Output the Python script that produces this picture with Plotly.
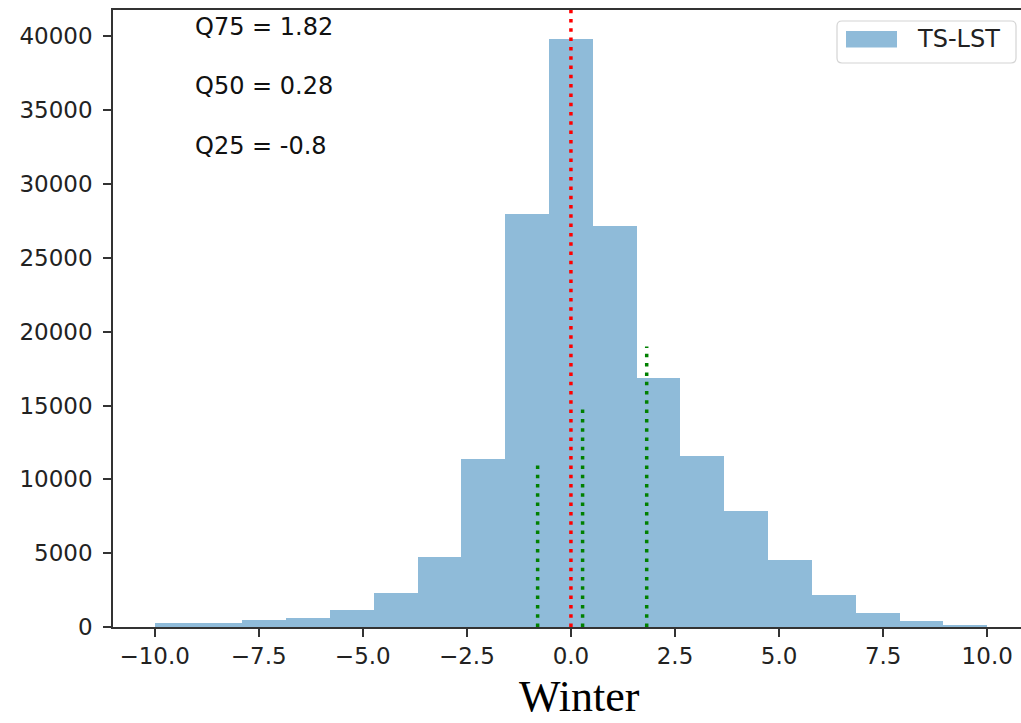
import numpy as np
import plotly.graph_objects as go

# ---- data ----
bin_edges_lo = -10.0
bin_edges_hi = 10.0
n_bins = 19
counts = [250, 250, 470, 610, 1150, 2300, 4770, 11350, 27970, 39860,
          27160, 16890, 11550, 7840, 4570, 2180, 950, 380, 130]
series_name = "TS-LST"
quantile_labels = ["Q75 = 1.82", "Q50 = 0.28", "Q25 = -0.8"]
quantile_values = [1.82, 0.28, -0.8]
quantile_line_tops = [19000, 15000, 11000]
label_y = [40000, 36000, 32000]
label_x = -9.0
zero_line_x = 0.0
x_ticks = [-10.0, -7.5, -5.0, -2.5, 0.0, 2.5, 5.0, 7.5, 10.0]
y_ticks = [0, 5000, 10000, 15000, 20000, 25000, 30000, 35000, 40000]
title_text = "Winter"

edges = np.linspace(bin_edges_lo, bin_edges_hi, n_bins + 1)
centers = (edges[:-1] + edges[1:]) / 2
widths = np.diff(edges)

W, H = 1021, 723
ML, MR, MT, MB = 113, 0, 10, 96
PW, PH = W - ML - MR, H - MT - MB


def px(xp):
    return (xp - ML) / PW


def py(yp):
    return 1 - (yp - MT) / PH


def rounded_rect_path(x0p, y0p, x1p, y1p, r):
    rx = r / PW
    ry = r / PH
    X0, X1 = px(x0p), px(x1p)
    YT, YB = py(y0p), py(y1p)
    return (f"M {X0 + rx},{YT} L {X1 - rx},{YT} Q {X1},{YT} {X1},{YT - ry} "
            f"L {X1},{YB + ry} Q {X1},{YB} {X1 - rx},{YB} "
            f"L {X0 + rx},{YB} Q {X0},{YB} {X0},{YB + ry} "
            f"L {X0},{YT - ry} Q {X0},{YT} {X0 + rx},{YT} Z")


fig = go.Figure()
fig.add_trace(go.Bar(
    x=centers, y=counts, width=widths, name=series_name,
    marker=dict(color="rgba(31,119,180,0.5)", line=dict(width=0)),
    showlegend=False,
))

shapes = []
shapes.append(dict(type="line", xref="x", yref="paper", x0=zero_line_x, x1=zero_line_x,
                   y0=0, y1=1, line=dict(color="#ff0000", width=3.5, dash="3.5px,5.8px")))
for q, top in zip(quantile_values, quantile_line_tops):
    shapes.append(dict(type="line", xref="x", yref="y", x0=q, x1=q, y0=0, y1=top,
                       line=dict(color="#008000", width=3.5, dash="3.5px,5.8px")))

# legend box (manual, matplotlib style)
shapes.append(dict(type="path", xref="paper", yref="paper",
                   path=rounded_rect_path(837, 21, 1016, 63, 5),
                   line=dict(color="#d4d4d4", width=1.2), fillcolor="rgba(255,255,255,0.8)"))
shapes.append(dict(type="rect", xref="paper", yref="paper",
                   x0=px(846), x1=px(897), y0=py(47.5), y1=py(31),
                   line=dict(width=0), fillcolor="rgba(31,119,180,0.5)"))

annotations = []
for lab, yv in zip(quantile_labels, label_y):
    annotations.append(dict(x=label_x, y=yv, xref="x", yref="y", text=lab,
                            showarrow=False, xanchor="left", yanchor="bottom",
                            yshift=-7, xshift=-3,
                            font=dict(family="DejaVu Sans", size=24, color="#111111")))
annotations.append(dict(x=px(915), y=py(39), xref="paper", yref="paper", text=series_name,
                        showarrow=False, xanchor="left", yanchor="middle",
                        font=dict(family="DejaVu Sans", size=24, color="#222222")))
annotations.append(dict(x=px(579), y=py(696), xref="paper", yref="paper", text=title_text,
                        showarrow=False, xanchor="center", yanchor="middle", borderpad=0,
                        font=dict(family="Liberation Serif", size=44, color="#000000")))

tickfont = dict(family="DejaVu Sans", size=23, color="#222222")
fig.update_layout(
    width=W, height=H,
    margin=dict(l=ML, r=MR, t=MT, b=MB, pad=0),
    paper_bgcolor="white", plot_bgcolor="white",
    bargap=0,
    shapes=shapes,
    annotations=annotations,
    xaxis=dict(range=[-11, -11 + PW / 41.63], tickvals=x_ticks, tickformat=".1f",
               showgrid=False, zeroline=False, showline=True, mirror=True,
               linecolor="#333333", linewidth=1.5, ticks="outside", ticklen=8,
               tickwidth=1.5, tickcolor="#333333", tickfont=tickfont),
    yaxis=dict(range=[0, 41790], tickvals=y_ticks, tickformat="d",
               showgrid=False, zeroline=False, showline=True, mirror=False,
               linecolor="#333333", linewidth=1.5, ticks="outside", ticklen=8,
               tickwidth=1.5, tickcolor="#333333", tickfont=tickfont,
               ticklabelstandoff=6),
)

fig.write_html("out.html")
